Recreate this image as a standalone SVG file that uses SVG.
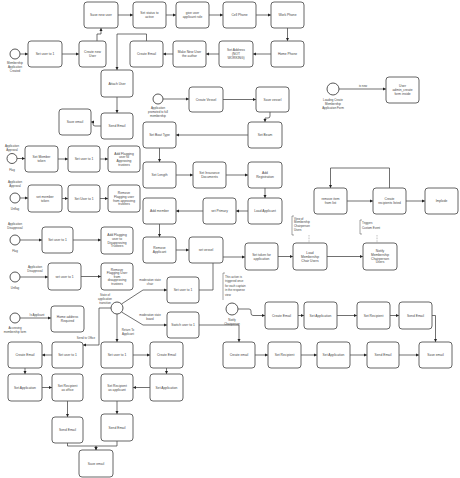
<svg xmlns="http://www.w3.org/2000/svg" width="460" height="478" viewBox="0 0 460 478">
<defs>
<marker id="a" viewBox="0 0 6 6" refX="6" refY="3" markerWidth="3.2" markerHeight="3.2" markerUnits="userSpaceOnUse" orient="auto"><path d="M0,0 L6,3 L0,6 z" fill="#222"/></marker>
<style>
.n rect{fill:#fff;stroke:#555;stroke-width:0.9}
.n circle{fill:#fff;stroke:#444;stroke-width:0.9}
text{font-family:"Liberation Sans",Arial,sans-serif;font-size:3.3px;fill:#444;text-anchor:middle}
.l{font-size:2.9px}
.la{text-anchor:start}
#edges path{fill:none;stroke:#333;stroke-width:0.7;marker-end:url(#a)}
#edges .d{stroke-dasharray:0.8 0.8;marker-end:none;stroke:#666;stroke-width:0.5}
.br{fill:none;stroke:#444;stroke-width:0.5}
</style>
</defs>
<rect width="460" height="478" fill="#fff"/>
<g id="edges">
<path d="M20,54 H28"/>
<path d="M62,54 H79"/>
<path d="M97,41 V34 H101 V28"/>
<path d="M118,15 H133"/>
<path d="M166,15 H176"/>
<path d="M209,15 H223"/>
<path d="M256,15 H271"/>
<path d="M287.5,28 V41"/>
<path d="M271,54 H253"/>
<path d="M219,54 H206"/>
<path d="M173,54 H163"/>
<path d="M146.5,41 V34 H117 V70"/>
<path d="M117,97 V113"/>
<path d="M101,126 H95 Q93,126 93,124 V122 H91"/>
<path d="M163,99 H189"/>
<path d="M223,99.5 H256"/>
<path d="M270,112 V116 Q270,118 268,118 H265 V122"/>
<path d="M248,135 H176"/>
<path d="M159.5,148 V162"/>
<path d="M176,175 H193"/>
<path d="M226,175 H248"/>
<path d="M265,188 V198"/>
<path d="M248,211 H236"/>
<path d="M203,211 H176"/>
<path d="M159.5,224 V237"/>
<path d="M176,250 H189"/>
<path d="M199,290 H213 V257 H245"/>
<path d="M278,256.5 H293"/>
<path d="M327,256.5 H363"/>
<path class="d" d="M309,235 V243"/>
<path class="d" d="M377,235 V243"/>
<path d="M17,158.5 H25"/>
<path d="M58,159 H68"/>
<path d="M100,159 H108"/>
<path d="M20,198 H28"/>
<path d="M62,198.5 H68"/>
<path d="M100,198.5 H108"/>
<path d="M20,240 H42"/>
<path d="M73,240 H101"/>
<path d="M20,277 H48"/>
<path d="M81,276.5 H101"/>
<path d="M20,318 H51"/>
<path d="M121.5,304 L143,290 H167"/>
<path d="M121.5,312 L143,325 H167"/>
<path d="M117,314 V342"/>
<path d="M111,308 H99 V345 H83"/>
<path d="M52,355 H42"/>
<path d="M25,368 V374"/>
<path d="M42,387.5 H52"/>
<path d="M67.5,401 V417"/>
<path d="M67.5,443 V446 H96 V450"/>
<path d="M117,441 V446 H96 V450"/>
<path d="M133,355 H150"/>
<path d="M166.5,368 V374"/>
<path d="M150,387.5 H133"/>
<path d="M117,401 V414"/>
<path d="M199,325 H239 V342"/>
<path d="M238,309 H249 Q251,309 251,311 V313 Q251,315.5 253,315.5 H265"/>
<path d="M298,315.5 H304"/>
<path d="M337,315.5 H357"/>
<path d="M390,315.5 H399"/>
<path d="M432,315.5 H435.5 V342"/>
<path d="M255,355 H268"/>
<path d="M301,355 H317"/>
<path d="M350,355 H367"/>
<path d="M399,355 H419"/>
<path d="M339,89 H386"/>
<path d="M347,201 H373"/>
<path d="M406,201 H425"/>
<path d="M389.5,188 V168 H330.5 V188"/>
</g>
<g id="edge-labels">
<text class="l" x="363" y="87">is new</text>
<text class="l" x="35" y="267.5">Application</text>
<text class="l" x="35" y="271.5">Disapproval</text>
<text class="l" x="37" y="316">Is Applicant</text>
<text class="l" x="150" y="281">moderation state</text>
<text class="l" x="150" y="285">chair</text>
<text class="l" x="150" y="315.5">moderation state</text>
<text class="l" x="150" y="319.5">board</text>
<text class="l" x="128" y="330.5">Return To</text>
<text class="l" x="128" y="334.5">Applicant</text>
<text class="l" x="86" y="339">Send to Office</text>
</g>
<g id="annotations">
<path class="br" d="M294,216 H292 V235 H294"/>
<text class="l la" x="294" y="219.5">View of</text>
<text class="l la" x="294" y="223.3">Membership</text>
<text class="l la" x="294" y="227.1">Chairperson</text>
<text class="l la" x="294" y="230.9">Users</text>
<path class="br" d="M362,220 H360 V234 H362"/>
<text class="l la" x="362" y="224">Triggers</text>
<text class="l la" x="362" y="228.5">Custom Event</text>
<path class="br" d="M225,273 H223 V300"/>
<text class="l la" x="225" y="277.5">This action is</text>
<text class="l la" x="225" y="282">triggered once</text>
<text class="l la" x="225" y="286.5">for each captain</text>
<text class="l la" x="225" y="291">in the response</text>
<text class="l la" x="225" y="295.5">view</text>
</g>
<g id="S1" class="n"><circle cx="15" cy="54" r="5"/><text class="l" x="15" y="64">Membership</text><text class="l" x="15" y="68">Application</text><text class="l" x="15" y="72">Created</text></g>
<g id="N1" class="n"><rect x="28" y="41" width="34" height="26" rx="3"/><text x="45" y="55.2">Set user to 1</text></g>
<g id="N2" class="n"><rect x="79" y="41" width="27" height="26" rx="3"/><text x="92.5" y="53.3">Create new</text><text x="92.5" y="57.1">User</text></g>
<g id="N3" class="n"><rect x="84" y="2" width="34" height="26" rx="3"/><text x="101" y="16.2">Save new user</text></g>
<g id="N4" class="n"><rect x="133" y="2" width="33" height="26" rx="3"/><text x="149.5" y="14.3">Set status to</text><text x="149.5" y="18.1">active</text></g>
<g id="N5" class="n"><rect x="176" y="2" width="33" height="26" rx="3"/><text x="192.5" y="14.3">give user</text><text x="192.5" y="18.1">applicant role</text></g>
<g id="N6" class="n"><rect x="223" y="2" width="33" height="26" rx="3"/><text x="239.5" y="16.2">Cell Phone</text></g>
<g id="N7" class="n"><rect x="271" y="2" width="33" height="26" rx="3"/><text x="287.5" y="16.2">Work Phone</text></g>
<g id="N8" class="n"><rect x="271" y="41" width="33" height="26" rx="3"/><text x="287.5" y="55.2">Home Phone</text></g>
<g id="N9" class="n"><rect x="219" y="41" width="34" height="26" rx="3"/><text x="236" y="51.4">Set Address</text><text x="236" y="55.2">(NOT</text><text x="236" y="59">WORKING)</text></g>
<g id="N10" class="n"><rect x="173" y="41" width="33" height="26" rx="3"/><text x="189.5" y="53.3">Make New User</text><text x="189.5" y="57.1">the author</text></g>
<g id="N11" class="n"><rect x="130" y="41" width="33" height="26" rx="3"/><text x="146.5" y="55.2">Create Email</text></g>
<g id="N12" class="n"><rect x="101" y="70" width="32" height="27" rx="3"/><text x="117" y="84.7">Attach User</text></g>
<g id="N13" class="n"><rect x="101" y="113" width="32" height="26" rx="3"/><text x="117" y="127.2">Send Email</text></g>
<g id="N14" class="n"><rect x="59" y="109" width="32" height="26" rx="3"/><text x="75" y="123.2">Save email</text></g>
<g id="S2" class="n"><circle cx="158" cy="99" r="5"/><text class="l" x="158" y="109">Application</text><text class="l" x="158" y="113">promoted to full</text><text class="l" x="158" y="117">membership</text></g>
<g id="N15" class="n"><rect x="189" y="87" width="34" height="25" rx="3"/><text x="206" y="100.7">Create Vessel</text></g>
<g id="N16" class="n"><rect x="256" y="87" width="33" height="25" rx="3"/><text x="272.5" y="100.7">Save vessel</text></g>
<g id="N17" class="n"><rect x="248" y="122" width="34" height="26" rx="3"/><text x="265" y="136.2">Set Beam</text></g>
<g id="N18" class="n"><rect x="143" y="122" width="33" height="26" rx="3"/><text x="159.5" y="136.2">Set Boat Type</text></g>
<g id="N19" class="n"><rect x="143" y="162" width="33" height="26" rx="3"/><text x="159.5" y="176.2">Set Length</text></g>
<g id="N20" class="n"><rect x="193" y="162" width="33" height="26" rx="3"/><text x="209.5" y="174.3">Set Insurance</text><text x="209.5" y="178.1">Documents</text></g>
<g id="N21" class="n"><rect x="248" y="162" width="34" height="26" rx="3"/><text x="265" y="174.3">Add</text><text x="265" y="178.1">Registration</text></g>
<g id="N22" class="n"><rect x="248" y="198" width="34" height="26" rx="3"/><text x="265" y="212.2">Load Applicant</text></g>
<g id="N23" class="n"><rect x="203" y="198" width="33" height="26" rx="3"/><text x="219.5" y="212.2">set Primary</text></g>
<g id="N24" class="n"><rect x="143" y="198" width="33" height="26" rx="3"/><text x="159.5" y="212.2">Add member</text></g>
<g id="N25" class="n"><rect x="143" y="237" width="33" height="26" rx="3"/><text x="159.5" y="249.3">Remove</text><text x="159.5" y="253.1">Applicant</text></g>
<g id="N26" class="n"><rect x="189" y="237" width="34" height="26" rx="3"/><text x="206" y="251.2">set vessel</text></g>
<g id="S3" class="n"><circle cx="12" cy="158.5" r="5"/><text class="l" x="12" y="147">Application</text><text class="l" x="12" y="151">Approval</text><text class="l" x="12" y="170.5">Flag</text></g>
<g id="N27" class="n"><rect x="25" y="146" width="33" height="26" rx="3"/><text x="41.5" y="158.3">Set Member</text><text x="41.5" y="162.1">token</text></g>
<g id="N28" class="n"><rect x="68" y="146" width="32" height="26" rx="3"/><text x="84" y="160.2">Set user to 1</text></g>
<g id="N29" class="n"><rect x="108" y="146" width="32" height="26" rx="3"/><text x="124" y="154.5">Add Flagging</text><text x="124" y="158.3">user to</text><text x="124" y="162.1">Approving</text><text x="124" y="165.9">trustees</text></g>
<g id="S4" class="n"><circle cx="15" cy="198" r="5"/><text class="l" x="15" y="183">Application</text><text class="l" x="15" y="187">Approval</text><text class="l" x="15" y="209.5">Unflag</text></g>
<g id="N30" class="n"><rect x="28" y="185" width="34" height="27" rx="3"/><text x="45" y="197.8">set member</text><text x="45" y="201.6">token</text></g>
<g id="N31" class="n"><rect x="68" y="185" width="32" height="27" rx="3"/><text x="84" y="199.7">Set User to 1</text></g>
<g id="N32" class="n"><rect x="108" y="185" width="32" height="27" rx="3"/><text x="124" y="194">Remove</text><text x="124" y="197.8">Flagging user</text><text x="124" y="201.6">from approving</text><text x="124" y="205.4">trustees</text></g>
<g id="S5" class="n"><circle cx="15" cy="240" r="5"/><text class="l" x="15" y="225">Application</text><text class="l" x="15" y="229">Disapproval</text><text class="l" x="15" y="251.5">Flag</text></g>
<g id="N33" class="n"><rect x="42" y="227" width="31" height="26" rx="3"/><text x="57.5" y="241.2">Set user to 1</text></g>
<g id="N34" class="n"><rect x="101" y="227" width="32" height="27" rx="3"/><text x="117" y="236">Add Flagging</text><text x="117" y="239.8">user to</text><text x="117" y="243.6">Disapproving</text><text x="117" y="247.4">Trustees</text></g>
<g id="S6" class="n"><circle cx="15" cy="277" r="5"/><text class="l" x="15" y="288.5">Unflag</text></g>
<g id="N35" class="n"><rect x="48" y="263" width="33" height="27" rx="3"/><text x="64.5" y="277.7">set user to 1</text></g>
<g id="N36" class="n"><rect x="101" y="263" width="32" height="27" rx="3"/><text x="117" y="270.5">Remove</text><text x="117" y="274.1">Flagging User</text><text x="117" y="277.7">from</text><text x="117" y="281.3">disapproving</text><text x="117" y="284.9">trustees</text></g>
<g id="S7" class="n"><circle cx="15" cy="318" r="5"/><text class="l" x="15" y="328.5">Accessing</text><text class="l" x="15" y="332.5">membership form</text></g>
<g id="N37" class="n"><rect x="51" y="306" width="33" height="26" rx="3"/><text x="67.5" y="318.3">Home address</text><text x="67.5" y="322.1">Required</text></g>
<g id="G1" class="n"><circle cx="117" cy="308" r="6"/><text class="l" x="105" y="296">State of</text><text class="l" x="105" y="300">application</text><text class="l" x="105" y="304">transition</text></g>
<g id="N38" class="n"><rect x="167" y="277" width="32" height="26" rx="3"/><text x="183" y="291.2">Set user to 1</text></g>
<g id="N39" class="n"><rect x="167" y="312" width="32" height="26" rx="3"/><text x="183" y="326.2">Switch user to 1</text></g>
<g id="N40" class="n"><rect x="52" y="342" width="31" height="26" rx="3"/><text x="67.5" y="356.2">Set user to 1</text></g>
<g id="N41" class="n"><rect x="8" y="342" width="34" height="26" rx="3"/><text x="25" y="356.2">Create Email</text></g>
<g id="N42" class="n"><rect x="8" y="374" width="34" height="27" rx="3"/><text x="25" y="388.7">Set Application</text></g>
<g id="N43" class="n"><rect x="52" y="374" width="31" height="27" rx="3"/><text x="67.5" y="386.8">Set Recipient</text><text x="67.5" y="390.6">as office</text></g>
<g id="N44" class="n"><rect x="52" y="417" width="31" height="26" rx="3"/><text x="67.5" y="431.2">Send Email</text></g>
<g id="N45" class="n"><rect x="79" y="450" width="34" height="27" rx="3"/><text x="96" y="464.7">Save email</text></g>
<g id="N46" class="n"><rect x="101" y="342" width="32" height="26" rx="3"/><text x="117" y="356.2">Set user to 1</text></g>
<g id="N47" class="n"><rect x="150" y="342" width="33" height="26" rx="3"/><text x="166.5" y="356.2">Create Email</text></g>
<g id="N48" class="n"><rect x="150" y="374" width="33" height="27" rx="3"/><text x="166.5" y="388.7">Set Application</text></g>
<g id="N49" class="n"><rect x="101" y="374" width="32" height="27" rx="3"/><text x="117" y="386.8">Set Recipient</text><text x="117" y="390.6">as applicant</text></g>
<g id="N50" class="n"><rect x="101" y="414" width="32" height="27" rx="3"/><text x="117" y="428.7">Send Email</text></g>
<g id="N51" class="n"><rect x="245" y="243" width="33" height="27" rx="3"/><text x="261.5" y="255.8">Set token for</text><text x="261.5" y="259.6">application</text></g>
<g id="N52" class="n"><rect x="293" y="243" width="34" height="27" rx="3"/><text x="310" y="253.9">Load</text><text x="310" y="257.7">Membership</text><text x="310" y="261.5">Chair Users</text></g>
<g id="N53" class="n"><rect x="363" y="243" width="34" height="27" rx="3"/><text x="380" y="252">Notify</text><text x="380" y="255.8">Membership</text><text x="380" y="259.6">Chairperson</text><text x="380" y="263.4">Users</text></g>
<g id="S8" class="n"><circle cx="232" cy="309" r="6"/><text class="l" x="232" y="320.5">Notify</text><text class="l" x="232" y="324.5">Chairperson</text></g>
<g id="N54" class="n"><rect x="265" y="302" width="33" height="27" rx="3"/><text x="281.5" y="316.7">Create Email</text></g>
<g id="N55" class="n"><rect x="304" y="302" width="33" height="27" rx="3"/><text x="320.5" y="316.7">Set Application</text></g>
<g id="N56" class="n"><rect x="357" y="302" width="33" height="27" rx="3"/><text x="373.5" y="316.7">Set Recipient</text></g>
<g id="N57" class="n"><rect x="399" y="302" width="33" height="27" rx="3"/><text x="415.5" y="316.7">Send Email</text></g>
<g id="N58" class="n"><rect x="223" y="342" width="32" height="26" rx="3"/><text x="239" y="356.2">Create email</text></g>
<g id="N59" class="n"><rect x="268" y="342" width="33" height="26" rx="3"/><text x="284.5" y="356.2">Set Recipient</text></g>
<g id="N60" class="n"><rect x="317" y="342" width="33" height="26" rx="3"/><text x="333.5" y="356.2">Set Application</text></g>
<g id="N61" class="n"><rect x="367" y="342" width="32" height="26" rx="3"/><text x="383" y="356.2">Send Email</text></g>
<g id="N62" class="n"><rect x="419" y="342" width="33" height="26" rx="3"/><text x="435.5" y="356.2">Save email</text></g>
<g id="S9" class="n"><circle cx="333" cy="89" r="6"/><text class="l" x="333" y="100.5">Loading Create</text><text class="l" x="333" y="104.5">Membership</text><text class="l" x="333" y="108.5">Application Form</text></g>
<g id="N63" class="n"><rect x="386" y="77" width="33" height="26" rx="3"/><text x="402.5" y="87.4">User</text><text x="402.5" y="91.2">admin_create</text><text x="402.5" y="95">form inside</text></g>
<g id="N64" class="n"><rect x="314" y="188" width="33" height="26" rx="3"/><text x="330.5" y="200.3">remove item</text><text x="330.5" y="204.1">from list</text></g>
<g id="N65" class="n"><rect x="373" y="188" width="33" height="26" rx="3"/><text x="389.5" y="200.3">Create</text><text x="389.5" y="204.1">recipients listed</text></g>
<g id="N66" class="n"><rect x="425" y="188" width="33" height="26" rx="3"/><text x="441.5" y="202.2">Implode</text></g>
</svg>
